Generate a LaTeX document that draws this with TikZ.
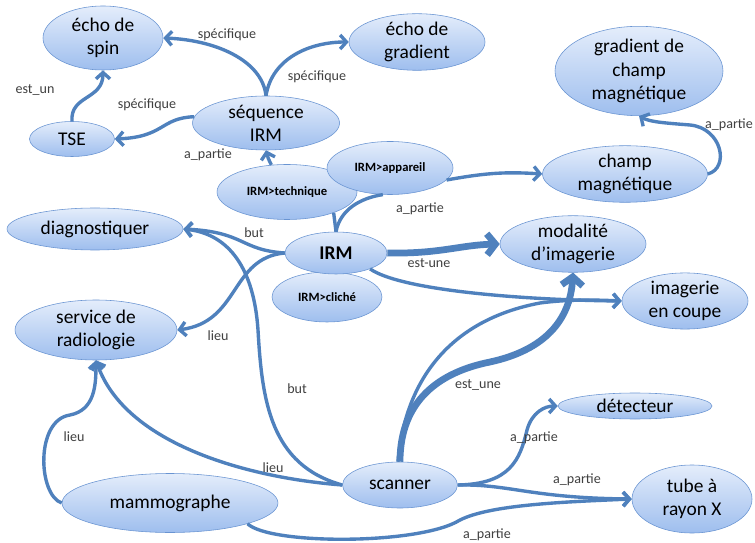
\documentclass[tikz,border=0pt]{standalone}
\usepackage{fontspec}
\setmainfont{Carlito}
\usepackage{xcolor}
\usepackage{tikz}
\usetikzlibrary{shapes,arrows,positioning,calc,arrows.meta}

\definecolor{linkblue}{RGB}{79,129,189}
\definecolor{nodeline}{RGB}{105,148,210}
\definecolor{nodetop}{RGB}{228,237,251}
\definecolor{nodebottom}{RGB}{158,190,238}
\newlength{\pxu}
\setlength{\pxu}{0.025cm}

\begin{document}
\begin{tikzpicture}[x=0.025cm, y=-0.025cm,
    concept/.style 2 args={ellipse, draw=nodeline, thin, top color=nodetop, bottom color=nodebottom,
        minimum width=#1\pxu, minimum height=#2\pxu, inner sep=0pt, align=center,
        font=\fontsize{13.8}{16.5}\selectfont},
    sub/.style={font=\bfseries\fontsize{9}{11}\selectfont},
    link/.style={draw=linkblue, line width=2.4pt, -{Straight Barb[length=4.5pt, width=10pt]}},
    thicklink/.style={draw=linkblue, line width=4.8pt, -{Straight Barb[length=6pt, width=15pt]}},
    plain/.style={draw=linkblue, line width=2.4pt},
    rel/.style={font=\fontsize{10}{12}\selectfont, text=black!75, inner sep=1pt}]
    \path[use as bounding box, fill=white] (0,0) rectangle (755,543);

    % Sequences
    \node [concept={120}{64}] (spin) at (103,38) {écho de\\spin};
    \node [concept={136}{56}] (grad) at (417,42) {écho de\\gradient};
    \node [concept={147}{54}] (seq) at (266,123) {séquence\\IRM};
    \node [concept={85}{35}] (tse) at (72,139) {TSE};

    % IRM and its facets
    \node [concept={140}{55}, sub] (tech) at (287,192) {IRM>technique};
    \node [concept={126}{53}, sub] (app) at (390,168) {IRM>appareil};
    \node [concept={110}{50}, sub] (cliche) at (327,297) {IRM>cliché};
    \node [concept={102}{42}, font=\bfseries\fontsize{13.8}{16.5}\selectfont] (irm) at (336,253) {IRM};

    % Field
    \node [concept={165}{55}] (champ) at (625,174) {champ\\magnétique};
    \node [concept={168}{78}] (gradchamp) at (639,71) {gradient de\\champ\\magnétique};

    % Left side
    \node [concept={176}{42}] (diag) at (95,229) {diagnostiquer};
    \node [concept={162}{60}] (radio) at (96,330) {service de\\radiologie};
    \node [concept={216}{59}] (mammo) at (170,503) {mammographe};

    % Right side
    \node [concept={146}{52}] (modal) at (573,244) {modalité\\d’imagerie};
    \node [concept={126}{53}] (coupe) at (685,301) {imagerie\\en coupe};
    \node [concept={154}{26}] (detect) at (635,406) {détecteur};
    \node [concept={120}{68}] (tube) at (692,499) {tube à\\rayon X};
    \node [concept={115}{46}] (scanner) at (400,485) {scanner};

    % Links of the sequence
    \draw [link] (seq.north) .. controls (262,60) and (215,40) .. (spin.east);
    \draw [link] (seq.north) .. controls (272,58) and (310,42) .. (grad.west);
    \draw [link] (seq.175) .. controls (160,118) and (165,137) .. (tse.east);
    \draw [link] (tse.north) .. controls (70,95) and (103,100) .. (spin.south);
    \draw [link] (tech.120) .. controls (268,158) .. (seq.south);
    \node [rel] (l1) at (227,35) {spécifique};
    \node [rel] (l2) at (317,77) {spécifique};
    \node [rel] (l3) at (147,105) {spécifique};
    \node [rel] (l4) at (35,90) {est\_un};
    \node [rel] (l5) at (208,155) {a\_partie};

    % IRM facets and field
    \draw [plain] (irm.north) -- (tech.-24);
    \draw [plain] (irm.north) .. controls (340,210) and (360,198) .. (app.255);
    \draw [link] (app.-12) .. controls (490,172) and (510,172) .. (champ.west);
    \draw [link] (champ.east) .. controls (730,168) and (722,128) .. (690,125)
        .. controls (665,123) and (650,122) .. (gradchamp.south);
    \node [rel] (l6) at (420,209) {a\_partie};
    \node [rel] (l7) at (729,125) {a\_partie};

    % IRM links
    \draw [link] (irm.west) .. controls (240,250) and (245,232) .. (diag.east);
    \draw [link] (irm.west) .. controls (230,258) and (240,322) .. (radio.east);
    \draw [thicklink] (irm.east) .. controls (440,254) and (460,245) .. (modal.west);
    \draw [link] (irm.-25) .. controls (400,290) and (520,300) .. (coupe.west);
    \node [rel] (l8) at (254,233) {but};
    \node [rel] (l9) at (218,336) {lieu};
    \node [rel] (l10) at (429,263) {est-une};

    % Scanner links
    \draw [thicklink] (scanner.north) .. controls (400,400) and (440,372) .. (490,362)
        .. controls (545,350) and (570,320) .. (modal.south);
    \draw [link] (scanner.95) .. controls (405,380) and (450,320) .. (540,303)
        .. controls (570,299) and (600,300) .. (coupe.west);
    \draw [link] (scanner.west) .. controls (270,465) and (262,400) .. (258,330)
        .. controls (254,270) and (230,234) .. (diag.east);
    \draw [link] (scanner.west) .. controls (250,478) and (125,445) .. (radio.south);
    \draw [link] (scanner.east) .. controls (510,484) and (530,498) .. (tube.west);
    \draw [link] (scanner.east) .. controls (510,484) and (520,460) .. (527,430)
        .. controls (532,412) and (545,406) .. (detect.west);
    \node [rel] (l11) at (478,385) {est\_une};
    \node [rel] (l12) at (297,389) {but};
    \node [rel] (l13) at (273,468) {lieu};
    \node [rel] (l14) at (534,438) {a\_partie};
    \node [rel] (l15) at (577,480) {a\_partie};

    % Mammographe links
    \draw [link] (mammo.west) .. controls (38,495) and (35,420) .. (70,415)
        .. controls (95,410) and (96,385) .. (radio.south);
    \draw [link] (mammo.-15) .. controls (270,545) and (420,545) .. (460,520)
        .. controls (490,505) and (560,502) .. (tube.west);
    \node [rel] (l16) at (74,437) {lieu};
    \node [rel] (l17) at (487,535) {a\_partie};
\end{tikzpicture}
\end{document}
